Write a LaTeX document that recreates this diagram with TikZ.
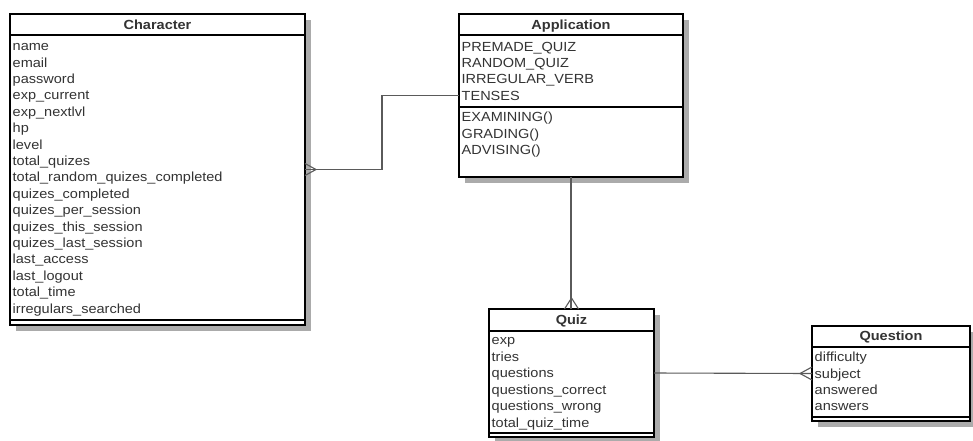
\documentclass[tikz,border=0pt]{standalone}
\usepackage{fontspec}
\setmainfont{Liberation Sans}[FakeStretch=1.1]
\usetikzlibrary{calc,backgrounds}
\definecolor{txt}{HTML}{333333}
\definecolor{conn}{HTML}{5A5A5A}
\definecolor{shade}{HTML}{ABABAB}
\tikzset{
  umlbox/.style={draw=black, line width=2pt, fill=white, inner sep=0pt, outer sep=0pt,
    anchor=north west},
  shadowbox/.style={fill=shade},
  sepline/.style={draw=black, line width=2pt},
  title/.style={inner sep=0pt, anchor=base, text=txt, font=\fontsize{13.2}{15}\selectfont\bfseries},
  attr/.style={inner sep=0pt, anchor=base west, text=txt, font=\fontsize{13.2}{15}\selectfont},
  connector/.style={draw=conn, line width=1.1pt},
}
\begin{document}
\begin{tikzpicture}[x=1pt, y=-1pt]
\path[use as bounding box] (0,0) rectangle (973,440);

% boxes
\node[umlbox, minimum width=295pt, minimum height=311pt] (character) at (10,14) {};
\node[umlbox, minimum width=224pt, minimum height=163pt] (application) at (459,14) {};
\node[umlbox, minimum width=165pt, minimum height=128pt] (quiz) at (489,309) {};
\node[umlbox, minimum width=158pt, minimum height=95pt] (question) at (812,326) {};

% shadows
\begin{scope}[on background layer]
  \fill[white] (0,0) rectangle (973,440);
  \foreach \b in {character, application, quiz, question}
    \fill[shadowbox] ($(\b.north west)+(6,6)$) rectangle ($(\b.south east)+(6,6)$);
\end{scope}

% separators
\draw[sepline] ($(character.north west)+(0,21)$) -- ($(character.north east)+(0,21)$);
\draw[sepline] ($(character.south west)+(0,-5)$) -- ($(character.south east)+(0,-5)$);
\draw[sepline] ($(application.north west)+(0,21)$) -- ($(application.north east)+(0,21)$);
\draw[sepline] ($(application.north west)+(0,93)$) -- ($(application.north east)+(0,93)$);
\draw[sepline] ($(quiz.north west)+(0,22)$) -- ($(quiz.north east)+(0,22)$);
\draw[sepline] ($(quiz.south west)+(0,-4)$) -- ($(quiz.south east)+(0,-4)$);
\draw[sepline] ($(question.north west)+(0,21)$) -- ($(question.north east)+(0,21)$);
\draw[sepline] ($(question.south west)+(0,-4)$) -- ($(question.south east)+(0,-4)$);

% titles
\node[title] (characterTitle) at ($(character.north)+(0,15.3)$) {Character};
\node[title] (applicationTitle) at ($(application.north)+(0,15.3)$) {Application};
\node[title] (quizTitle) at ($(quiz.north)+(0,15.3)$) {Quiz};
\node[title] (questionTitle) at ($(question.north)+(0,14)$) {Question};

% attributes
\foreach \t [count=\i] in {name, email, password, exp\_current, exp\_nextlvl, hp, level,
  total\_quizes, total\_random\_quizes\_completed, quizes\_completed, quizes\_per\_session,
  quizes\_this\_session, quizes\_last\_session, last\_access, last\_logout, total\_time,
  irregulars\_searched}
  \node[attr] (ch\i) at ($(character.north west)+(2.5,{36.7+16.4*(\i-1)})$) {\t};

\foreach \t [count=\i] in {PREMADE\_QUIZ, RANDOM\_QUIZ, IRREGULAR\_VERB, TENSES}
  \node[attr] (ap\i) at ($(application.north west)+(2.5,{37+16.4*(\i-1)})$) {\t};
\foreach \t [count=\i] in {EXAMINING(), GRADING(), ADVISING()}
  \node[attr] (am\i) at ($(application.north west)+(2.5,{107.7+16.4*(\i-1)})$) {\t};

\foreach \t [count=\i] in {exp, tries, questions, questions\_correct, questions\_wrong, total\_quiz\_time}
  \node[attr] (qz\i) at ($(quiz.north west)+(2.5,{35.5+16.5*(\i-1)})$) {\t};

\foreach \t [count=\i] in {difficulty, subject, answered, answers}
  \node[attr] (qn\i) at ($(question.north west)+(2.5,{35.7+16.4*(\i-1)})$) {\t};

% connectors
\coordinate (bend) at ($(character.east)!0.5!(application.west)$);
\draw[connector] (character.east) -| (bend) |- (application.west);
\draw[connector] (character.east) ++(0,-6) -- ++(11,6) -- ++(-11,6);

\draw[connector] (application.south) -- (application.south |- quiz.north);
\draw[connector] (quiz.north) ++(-7,0) -- ++(7,-11) -- ++(7,11);

\draw[connector] (quiz.east) -- (question.west);
\draw[connector] (question.west) ++(0,-6.5) -- ++(-12,6.5) -- ++(12,6.5);
\end{tikzpicture}
\end{document}
